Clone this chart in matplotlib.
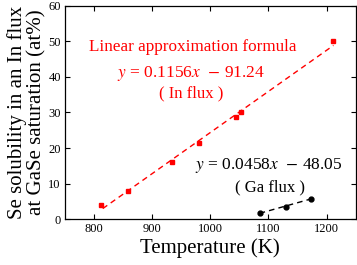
import numpy as np
import matplotlib
matplotlib.use("Agg")
import matplotlib.pyplot as plt

# Se solubility data
in_temp = [812, 858, 935, 980, 1045, 1053, 1212]
in_sol = [4.0, 8.0, 16.0, 21.5, 28.8, 30.0, 50.0]
ga_temp = [1085, 1131, 1173]
ga_sol = [1.8, 3.3, 5.8]

# linear fits given in the figure
in_fit = (0.1156, -91.24)
ga_fit = (0.0458, -48.05)

plt.rcParams['font.family'] = ['Liberation Serif', 'DejaVu Serif']
plt.rcParams['mathtext.fontset'] = 'stix'

fig = plt.figure(figsize=(3.57, 2.65), dpi=100)
ax = fig.add_axes([0.182, 0.173, 0.814, 0.805])

xs = np.array([815, 1212])
ax.plot(xs, in_fit[0] * xs + in_fit[1], '--', color='#ff0000', lw=1.0, dashes=(4, 3))
ax.plot(in_temp, in_sol, 's', color='#ff0000', ms=3.5, mec='#ff0000')

xs = np.array([1085, 1173])
ax.plot(xs, ga_fit[0] * xs + ga_fit[1], '--', color='black', lw=1.0, dashes=(4, 3))
ax.plot(ga_temp, ga_sol, 'o', color='black', ms=3.5)

ax.set_xlim(750, 1250)
ax.set_ylim(0, 60)
ax.set_xticks([800, 900, 1000, 1100, 1200])
ax.set_yticks(range(0, 61, 10))
ax.tick_params(direction='in', top=True, right=True, labelsize=9, length=3.5, width=0.8, pad=3)
for s in ax.spines.values():
    s.set_linewidth(0.9)

ax.set_xlabel('Temperature (K)', fontsize=15, labelpad=2)
ax.set_ylabel('Se solubility in an In flux\nat GaSe saturation (at%)', fontsize=15,
              labelpad=1, linespacing=1.08)

ax.text(970, 48.4, 'Linear approximation formula', color='#ff0000', fontsize=12.3,
        ha='center', va='center')
ax.text(967, 41.1, r'$y$ = 0.1156$x$  $-$ 91.24', color='#ff0000', fontsize=12.5,
        ha='center', va='center')
ax.text(967, 35.3, '( In flux )', color='#ff0000', fontsize=12,
        ha='center', va='center')
ax.text(1100, 15.0, r'$y$ = 0.0458$x$  $-$ 48.05', color='black', fontsize=12.5,
        ha='center', va='center')
ax.text(1102, 9.0, '( Ga flux )', color='black', fontsize=12,
        ha='center', va='center')

fig.savefig('out.png', dpi=100)
